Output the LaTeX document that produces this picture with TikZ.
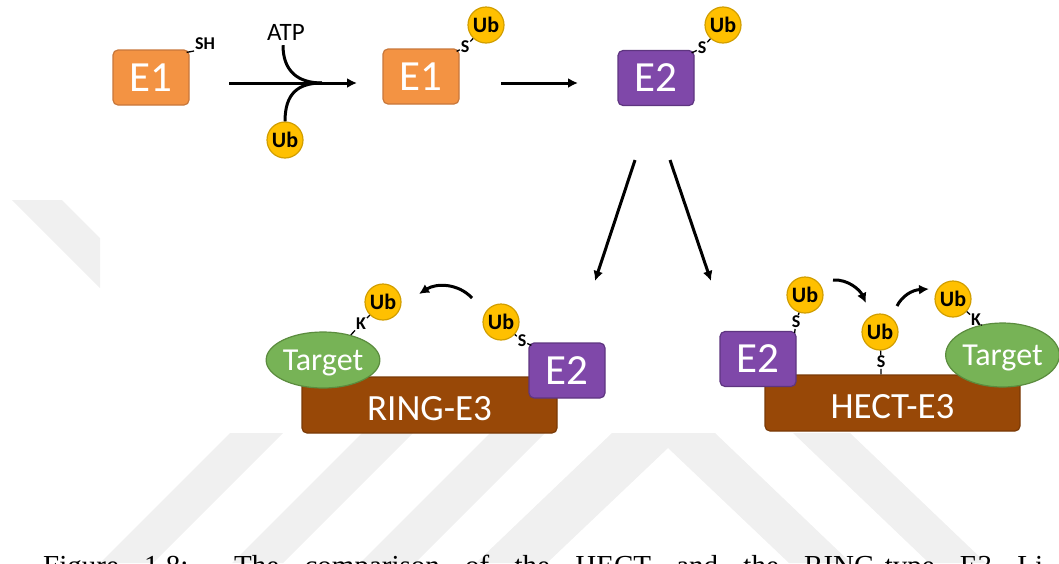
\documentclass[tikz,border=0pt]{standalone}
\usepackage{fontspec}
\setmainfont{Carlito}
\newfontfamily\capfont{Liberation Serif}
\usepackage{tikz}
\usetikzlibrary{arrows.meta}
\tikzset{>={Latex[length=10pt,width=10pt]}}
\usetikzlibrary{calc}
\usetikzlibrary{shapes.geometric}
\definecolor{eoneorange}{HTML}{F39343}
\definecolor{eoneborder}{HTML}{C8773A}
\definecolor{etwopurple}{HTML}{7F48A9}
\definecolor{etwoborder}{HTML}{5E3580}
\definecolor{ethreebrown}{HTML}{984807}
\definecolor{ethreeborder}{HTML}{7A3A06}
\definecolor{targetgreen}{HTML}{77B356}
\definecolor{targetborder}{HTML}{5B8C3E}
\definecolor{ubgold}{HTML}{FFC000}
\definecolor{ubborder}{HTML}{D19E00}
\definecolor{watermark}{HTML}{F0F0F0}
\tikzset{
  enzyme/.style={rectangle, rounded corners=5pt, line width=1.2pt, minimum width=76pt, minimum height=55pt, inner sep=0pt, text=white, font=\fontsize{43}{43}\selectfont},
  eone/.style={enzyme, fill=eoneorange, draw=eoneborder},
  etwo/.style={enzyme, fill=etwopurple, draw=etwoborder},
  ethree/.style={rectangle, rounded corners=5pt, line width=1.2pt, fill=ethreebrown, draw=ethreeborder, minimum width=255pt, minimum height=56pt, inner sep=0pt, text height=30pt, text depth=0pt, text=white, font=\fontsize{37}{37}\selectfont},
  target/.style={ellipse, line width=1.2pt, fill=targetgreen, draw=targetborder, minimum width=110pt, minimum height=56pt, inner sep=0pt, text depth=0pt, text=white, font=\fontsize{32}{32}\selectfont},
  ub/.style={circle, line width=1.2pt, fill=ubgold, draw=ubborder, minimum size=36pt, inner sep=0pt, font=\bfseries\fontsize{22}{22}\selectfont},
  link/.style={inner sep=0.8pt, font=\bfseries\fontsize{18}{18}\selectfont},
  bond/.style={line width=1.3pt},
  feed/.style={line width=3pt},
  flow/.style={->, line width=3pt}
}

\begin{document}
\begin{tikzpicture}[x=1pt,y=-1pt]
  \useasboundingbox (0,0) rectangle (1059,563);
  \clip (0,0) rectangle (1059,563);
  \fill[watermark] (12,200) -- (62,200) -- (100,238) -- (100,288) -- cycle;
  \fill[watermark] (230,433) -- (283,433) -- (153,563) -- (100,563) -- cycle;
  \fill[watermark] (362,433) -- (413,433) -- (283,563) -- (232,563) -- cycle;
  \fill[watermark] (490,433) -- (545,433) -- (415,563) -- (360,563) -- cycle;
  \fill[watermark] (612,433) -- (715,433) -- (851,563) -- (789,563) -- (668,448) -- (547,563) -- (476,563) -- cycle;
  \fill[watermark] (793,433) -- (850,433) -- (986,563) -- (929,563) -- cycle;

  \node[eone] (eoneA) at (151,77.5) {E1};
  \node[link] (sh) at (205,44) {SH};
  \draw[bond] ($(eoneA.north east)+(-3,3)$) -- (sh.south west);
  \node[inner sep=1pt, font=\fontsize{25}{25}\selectfont] (atp) at (286,32) {ATP};
  \node[ub] (ubIn) at (285,140) {Ub};
  \coordinate (startA) at (229,83);
  \coordinate (merge) at (322,83);
  \coordinate (endA) at (357,83);
  \draw[flow] (startA) -- (endA);
  \draw[feed] ($(atp.south)+(-3,4)$) .. controls +(0,26) and +(-24,0) .. (merge);
  \draw[feed] (ubIn.north) .. controls +(0,-28) and +(-24,0) .. (merge);

  \node[eone] (eoneB) at (421,76.5) {E1};
  \node[link] (sA) at (465,47) {S};
  \node[ub] (ubA) at (486,25) {Ub};
  \draw[bond] ($(eoneB.north east)+(-3,3)$) -- (sA) -- (ubA);
  \coordinate (startB) at (501,83);
  \coordinate (endB) at (578,83);
  \draw[flow] (startB) -- (endB);

  \node[etwo] (etwoA) at (656,78) {E2};
  \node[link] (sB) at (702,48) {S};
  \node[ub] (ubB) at (723,25) {Ub};
  \draw[bond] ($(etwoA.north east)+(-3,3)$) -- (sB) -- (ubB);

  \coordinate (splitL) at (635,160);
  \coordinate (splitR) at (670,160);
  \coordinate (toRing) at (595,281);
  \coordinate (toHect) at (711,281);
  \draw[flow] (splitL) -- (toRing);
  \draw[flow] (splitR) -- (toHect);

  \node[ethree] (ring) at (429.5,405) {RING-E3};
  \node[target] (tgtL) at (323,360) {Target};
  \node[link] (kA) at (361,324) {K};
  \node[ub] (ubC) at (383,302) {Ub};
  \draw[bond] (tgtL.42) -- (kA) -- (ubC);
  \node[etwo] (etwoB) at (567,370.5) {E2};
  \node[link] (sC) at (522,341) {S};
  \node[ub] (ubD) at (501,322) {Ub};
  \draw[bond] ($(etwoB.north west)+(3,3)$) -- (sC) -- (ubD);
  \coordinate (handL) at (472,298);
  \coordinate (handLend) at (419,294);
  \draw[flow] (handL) .. controls (458,283) and (436,283) .. (handLend);

  \node[ethree] (hect) at (892.5,403) {HECT-E3};
  \node[etwo] (etwoC) at (758,359) {E2};
  \node[link] (sD) at (796,322) {S};
  \node[ub] (ubE) at (805,295) {Ub};
  \draw[bond] ($(etwoC.north east)+(-2,2)$) -- (sD) -- (ubE);
  \node[ub] (ubF) at (880,332) {Ub};
  \node[link] (sE) at (881,362) {S};
  \draw[bond] (ubF) -- (sE) -- (sE |- hect.north);
  \node[target, minimum width=99pt, minimum height=64pt] (tgtR) at (1002.5,355) {Target};
  \node[ub] (ubG) at (953,299) {Ub};
  \node[link] (kB) at (976,320) {K};
  \draw[bond] (ubG) -- (kB) -- (tgtR.125);
  \coordinate (hopA) at (833,280);
  \coordinate (hopAend) at (866,303);
  \coordinate (hopB) at (897,306);
  \coordinate (hopBend) at (929,289);
  \draw[flow] (hopA) .. controls (848,279) and (860,290) .. (hopAend);
  \draw[flow] (hopB) .. controls (902,296) and (912,290) .. (hopBend);

  \node[anchor=base west, inner sep=0pt, font=\capfont\fontsize{29}{31}\selectfont] (caption) at (43,575) {\makebox[1000pt][s]{Figure 1.8: The comparison of the HECT and the RING-type E3 Li}};
\end{tikzpicture}
\end{document}
